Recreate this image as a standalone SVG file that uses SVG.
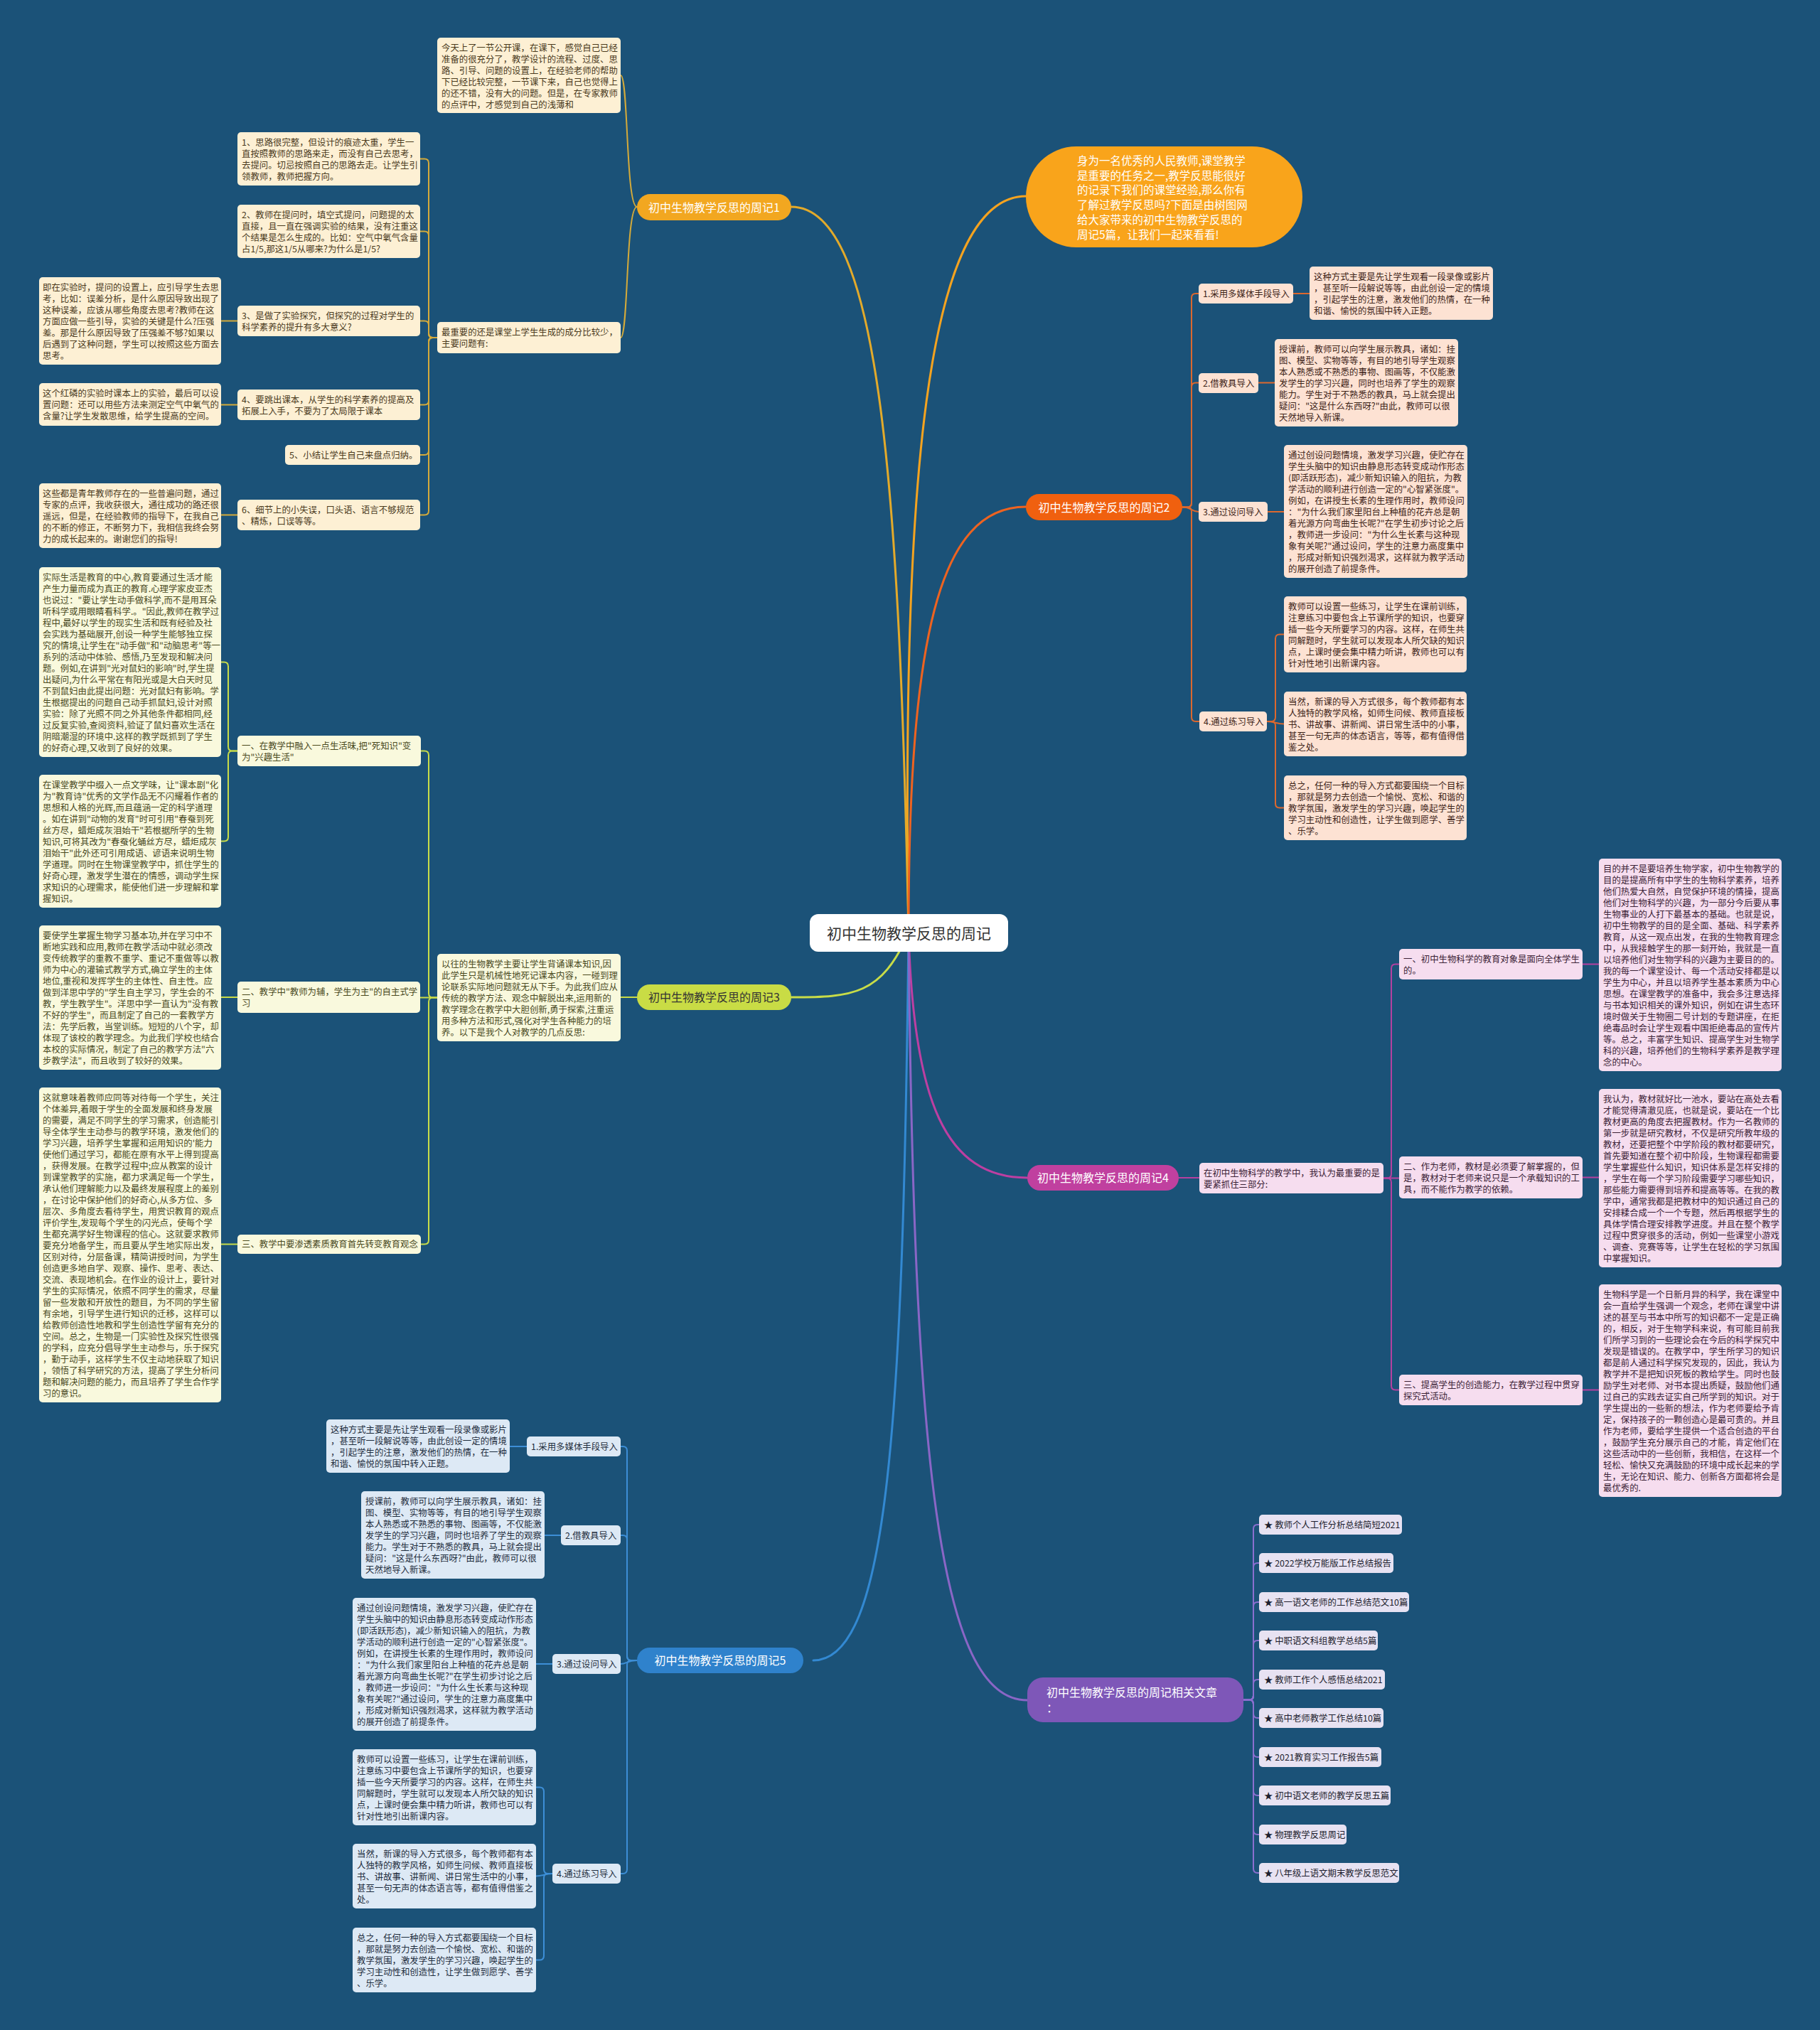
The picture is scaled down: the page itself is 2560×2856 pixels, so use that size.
<svg xmlns="http://www.w3.org/2000/svg" width="2560" height="2856" viewBox="0 0 2560 2856">
<style>
text{font-family:"Noto Sans CJK SC","Liberation Sans",sans-serif}
.s{font-size:12.4px}
.lbl{font-size:16px}
.ln{fill:none;stroke-width:2;stroke-linecap:round}
.main{fill:none;stroke-width:3;stroke-linecap:round}
.c1 rect{fill:#fdf0d4}.c1 text{fill:#4a3a1c}
.c2 rect{fill:#fde2d3}.c2 text{fill:#3d2418}
.c3 rect{fill:#f9f9dd}.c3 text{fill:#4a4a1e}
.c4 rect{fill:#f6ddef}.c4 text{fill:#3b2236}
.c5 rect{fill:#dde9f5}.c5 text{fill:#1e2d3d}
.c6 rect{fill:#e7e2f2}.c6 text{fill:#1e1e2e}
</style>
<rect width="2560" height="2856" fill="#1b5278"/>

<g id="connectors">
<path class="main" stroke="#f5a31f" d="M1278 1312 C1268 700 1300 276 1443 276"/>
<path class="main" stroke="#e3aa2a" d="M1278 1312 C1265 700 1240 291 1113 291"/>
<path class="main" stroke="#ee6320" d="M1278 1312 C1278 900 1320 713 1443 713"/>
<path class="main" stroke="#c8dc48" d="M1278 1312 C1240 1400 1200 1403 1113 1403"/>
<path class="main" stroke="#bd3fa2" d="M1278 1312 C1285 1550 1330 1657 1445 1657"/>
<path class="main" stroke="#3389d2" d="M1278 1312 C1270 2000 1250 2336 1144 2336"/>
<path class="main" stroke="#8a66c6" d="M1278 1312 C1285 2050 1320 2392 1445 2392"/>

<g stroke="#d4aa3a">
<path class="ln" d="M896 291 C880 291 884 106 873 106"/>
<path class="ln" d="M896 291 C880 291 884 475 873 475"/>
<path class="ln" d="M615 475 H609 Q603 475 603 469 V229.5 Q603 223.5 597 223.5 H591"/>
<path class="ln" d="M615 475 H609 Q603 475 603 469 V331.5 Q603 325.5 597 325.5 H591"/>
<path class="ln" d="M615 475 H609 Q603 475 603 469 V457.5 Q603 451.5 597 451.5 H591"/>
<path class="ln" d="M615 475 H609 Q603 475 603 481 V563.5 Q603 569.5 597 569.5 H591"/>
<path class="ln" d="M615 475 H609 Q603 475 603 481 V634 Q603 640 597 640 H591"/>
<path class="ln" d="M615 475 H609 Q603 475 603 481 V718.5 Q603 724.5 597 724.5 H591"/>
<path class="ln" d="M334 451.5 H311"/>
<path class="ln" d="M334 569.5 H311"/>
<path class="ln" d="M334 724.5 H311"/>
</g>

<g stroke="#c8dc48">
<path class="ln" d="M896 1403 H873"/>
<path class="ln" d="M615 1403.5 H609 Q603 1403.5 603 1397.5 V1062.5 Q603 1056.5 597 1056.5 H592"/>
<path class="ln" d="M615 1403.5 H591"/>
<path class="ln" d="M615 1403.5 H609 Q603 1403.5 603 1409.5 V1744.5 Q603 1750.5 597 1750.5 H592"/>
<path class="ln" d="M334 1056.5 H327 Q321 1056.5 321 1050.5 V937.5 Q321 931.5 315 931.5 H311"/>
<path class="ln" d="M334 1056.5 H327 Q321 1056.5 321 1062.5 V1177.5 Q321 1183.5 315 1183.5 H311"/>
<path class="ln" d="M334 1403 H311"/>
<path class="ln" d="M334 1750.5 H311"/>
</g>

<g stroke="#dc682e">
<path class="ln" d="M1663 713.5 H1670 Q1676 713.5 1676 707.5 V419 Q1676 413 1682 413 H1686"/>
<path class="ln" d="M1663 713.5 H1670 Q1676 713.5 1676 707.5 V544.5 Q1676 538.5 1682 538.5 H1686"/>
<path class="ln" d="M1663 713.5 C1676 713.5 1676 720 1686 720"/>
<path class="ln" d="M1663 713.5 H1670 Q1676 713.5 1676 719.5 V1009 Q1676 1015 1682 1015 H1687"/>
<path class="ln" d="M1819 413 H1842"/>
<path class="ln" d="M1770 538.5 H1793"/>
<path class="ln" d="M1783 720 H1806"/>
<path class="ln" d="M1782 1015 H1788 Q1794 1015 1794 1009 V898.5 Q1794 892.5 1800 892.5 H1806"/>
<path class="ln" d="M1782 1015 C1794 1015 1794 1018.5 1806 1018.5"/>
<path class="ln" d="M1782 1015 H1788 Q1794 1015 1794 1021 V1130.5 Q1794 1136.5 1800 1136.5 H1806"/>
</g>

<g stroke="#b540a0">
<path class="ln" d="M1658 1657 H1687"/>
<path class="ln" d="M1946 1657.5 H1951 Q1957 1657.5 1957 1651.5 V1362.5 Q1957 1356.5 1963 1356.5 H1968"/>
<path class="ln" d="M1946 1657.5 H1968"/>
<path class="ln" d="M1946 1657.5 H1951 Q1957 1657.5 1957 1663.5 V1949.5 Q1957 1955.5 1963 1955.5 H1968"/>
<path class="ln" d="M2226 1356.5 H2249"/>
<path class="ln" d="M2226 1656.5 H2249"/>
<path class="ln" d="M2226 1955.5 H2249"/>
</g>

<g stroke="#3d8ed6">
<path class="ln" d="M896 2336 H888 Q882 2336 882 2330 V2041 Q882 2035 876 2035 H873"/>
<path class="ln" d="M896 2336 H888 Q882 2336 882 2330 V2166 Q882 2160 876 2160 H873"/>
<path class="ln" d="M896 2336 C882 2336 882 2341 873 2341"/>
<path class="ln" d="M896 2336 H888 Q882 2336 882 2342 V2630 Q882 2636 876 2636 H873"/>
<path class="ln" d="M741 2035 H717"/>
<path class="ln" d="M789 2160 H766"/>
<path class="ln" d="M777 2341 H754"/>
<path class="ln" d="M777 2636 H771 Q765 2636 765 2630 V2520.5 Q765 2514.5 759 2514.5 H754"/>
<path class="ln" d="M777 2636 C765 2636 765 2639.5 754 2639.5"/>
<path class="ln" d="M777 2636 H771 Q765 2636 765 2642 V2751.5 Q765 2757.5 759 2757.5 H754"/>
</g>

<g stroke="#8a6fcf">
<path class="ln" d="M1749 2391.5 H1757 Q1763 2391.5 1763 2385.5 V2151 Q1763 2145 1769 2145 H1771"/>
<path class="ln" d="M1749 2391.5 H1757 Q1763 2391.5 1763 2385.5 V2205 Q1763 2199 1769 2199 H1771"/>
<path class="ln" d="M1749 2391.5 H1757 Q1763 2391.5 1763 2385.5 V2260 Q1763 2254 1769 2254 H1771"/>
<path class="ln" d="M1749 2391.5 H1757 Q1763 2391.5 1763 2385.5 V2314 Q1763 2308 1769 2308 H1771"/>
<path class="ln" d="M1749 2391.5 H1757 Q1763 2391.5 1763 2385.5 V2369 Q1763 2363 1769 2363 H1771"/>
<path class="ln" d="M1749 2391.5 H1757 Q1763 2391.5 1763 2397.5 V2411 Q1763 2417 1769 2417 H1771"/>
<path class="ln" d="M1749 2391.5 H1757 Q1763 2391.5 1763 2397.5 V2466 Q1763 2472 1769 2472 H1771"/>
<path class="ln" d="M1749 2391.5 H1757 Q1763 2391.5 1763 2397.5 V2520 Q1763 2526 1769 2526 H1771"/>
<path class="ln" d="M1749 2391.5 H1757 Q1763 2391.5 1763 2397.5 V2575 Q1763 2581 1769 2581 H1771"/>
<path class="ln" d="M1749 2391.5 H1757 Q1763 2391.5 1763 2397.5 V2629 Q1763 2635 1769 2635 H1771"/>
</g>
</g>

<g id="center">
<rect x="1139" y="1286" width="279" height="53" rx="12" fill="#ffffff"/>
<text x="1278.5" y="1320.5" text-anchor="middle" font-size="21" fill="#333333">初中生物教学反思的周记</text>
</g>

<g id="intro">
<rect x="1443" y="206" width="389" height="142" rx="71" fill="#f9a41b"/>
<text x="1515" y="231.6" font-size="15.5" fill="#ffffff"><tspan x="1515" dy="0">身为一名优秀的人民教师,课堂教学</tspan><tspan x="1515" dy="20.9">是重要的任务之一,教学反思能很好</tspan><tspan x="1515" dy="20.9">的记录下我们的课堂经验,那么你有</tspan><tspan x="1515" dy="20.9">了解过教学反思吗?下面是由树图网</tspan><tspan x="1515" dy="20.9">给大家带来的初中生物教学反思的</tspan><tspan x="1515" dy="20.9">周记5篇，让我们一起来看看!</tspan></text>
</g>

<!-- Branch 1 -->
<g id="b1">
<rect x="896" y="273" width="217" height="37" rx="18.5" fill="#f2a720"/>
<text class="lbl" x="1004.5" y="297.5" text-anchor="middle" fill="#ffffff">初中生物教学反思的周记1</text>
</g>
<g class="c1">
<g id="b1_intro"><rect x="615" y="53" width="258" height="106" rx="5"/>
<text class="s" x="621" y="71.5"><tspan x="621" dy="0">今天上了一节公开课，在课下，感觉自己已经</tspan><tspan x="621" dy="16">准备的很充分了，教学设计的流程、过度、思</tspan><tspan x="621" dy="16">路、引导、问题的设置上，在经验老师的帮助</tspan><tspan x="621" dy="16">下已经比较完整，一节课下来，自己也觉得上</tspan><tspan x="621" dy="16">的还不错，没有大的问题。但是，在专家教师</tspan><tspan x="621" dy="16">的点评中，才感觉到自己的浅薄和</tspan></text></g>
<g id="b1_main"><rect x="615" y="453" width="258" height="44" rx="5"/>
<text class="s" x="621" y="471.5"><tspan x="621" dy="0">最重要的还是课堂上学生生成的成分比较少，</tspan><tspan x="621" dy="16">主要问题有:</tspan></text></g>
<g id="b1_i1"><rect x="334" y="186" width="257" height="75" rx="5"/>
<text class="s" x="340" y="204.5"><tspan x="340" dy="0">1、思路很完整，但设计的痕迹太重，学生一</tspan><tspan x="340" dy="16">直按照教师的思路来走，而没有自己去思考，</tspan><tspan x="340" dy="16">去提问。切忌按照自己的思路去走。让学生引</tspan><tspan x="340" dy="16">领教师，教师把握方向。</tspan></text></g>
<g id="b1_i2"><rect x="334" y="288" width="257" height="75" rx="5"/>
<text class="s" x="340" y="306.5"><tspan x="340" dy="0">2、教师在提问时，填空式提问，问题提的太</tspan><tspan x="340" dy="16">直接，且一直在强调实验的结果，没有注重这</tspan><tspan x="340" dy="16">个结果是怎么生成的。比如：空气中氧气含量</tspan><tspan x="340" dy="16">占1/5,那这1/5从哪来?为什么是1/5?</tspan></text></g>
<g id="b1_i3"><rect x="334" y="430" width="257" height="43" rx="5"/>
<text class="s" x="340" y="448.5"><tspan x="340" dy="0">3、是做了实验探究，但探究的过程对学生的</tspan><tspan x="340" dy="16">科学素养的提升有多大意义?</tspan></text></g>
<g id="b1_i4"><rect x="334" y="548" width="257" height="43" rx="5"/>
<text class="s" x="340" y="566.5"><tspan x="340" dy="0">4、要跳出课本，从学生的科学素养的提高及</tspan><tspan x="340" dy="16">拓展上入手，不要为了太局限于课本</tspan></text></g>
<g id="b1_i5"><rect x="401" y="626" width="190" height="28" rx="5"/>
<text class="s" x="407" y="644.5">5、小结让学生自己来盘点归纳。</text></g>
<g id="b1_i6"><rect x="334" y="703" width="257" height="43" rx="5"/>
<text class="s" x="340" y="721.5"><tspan x="340" dy="0">6、细节上的小失误，口头语、语言不够规范</tspan><tspan x="340" dy="16">、精炼，口误等等。</tspan></text></g>
<g id="b1_l3"><rect x="55" y="390" width="256" height="123" rx="5"/>
<text class="s" x="60" y="408.5"><tspan x="60" dy="0">即在实验时，提问的设置上，应引导学生去思</tspan><tspan x="60" dy="16">考，比如：误差分析，是什么原因导致出现了</tspan><tspan x="60" dy="16">这种误差，应该从哪些角度去思考?教师在这</tspan><tspan x="60" dy="16">方面应做一些引导，实验的关键是什么?压强</tspan><tspan x="60" dy="16">差。那是什么原因导致了压强差不够?如果以</tspan><tspan x="60" dy="16">后遇到了这种问题，学生可以按照这些方面去</tspan><tspan x="60" dy="16">思考。</tspan></text></g>
<g id="b1_l4"><rect x="55" y="539" width="256" height="60" rx="5"/>
<text class="s" x="60" y="557.5"><tspan x="60" dy="0">这个红磷的实验时课本上的实验，最后可以设</tspan><tspan x="60" dy="16">置问题：还可以用些方法来测定空气中氧气的</tspan><tspan x="60" dy="16">含量?让学生发散思维，给学生提高的空间。</tspan></text></g>
<g id="b1_l6"><rect x="55" y="680" width="256" height="91" rx="5"/>
<text class="s" x="60" y="698.5"><tspan x="60" dy="0">这些都是青年教师存在的一些普遍问题，通过</tspan><tspan x="60" dy="16">专家的点评，我收获很大，通往成功的路还很</tspan><tspan x="60" dy="16">遥远，但是，在经验教师的指导下，在我自己</tspan><tspan x="60" dy="16">的不断的修正，不断努力下，我相信我终会努</tspan><tspan x="60" dy="16">力的成长起来的。谢谢您们的指导!</tspan></text></g>
</g>

<!-- Branch 2 -->
<g id="b2">
<rect x="1443" y="695" width="220" height="37" rx="18.5" fill="#f0600f"/>
<text class="lbl" x="1553" y="719.5" text-anchor="middle" fill="#ffffff">初中生物教学反思的周记2</text>
</g>
<g class="c2">
<g id="b2_1"><rect x="1686" y="399" width="133" height="28" rx="5"/><text class="s" x="1692" y="417.5">1.采用多媒体手段导入</text></g>
<g id="b2_1t"><rect x="1842" y="375" width="258" height="75" rx="5"/>
<text class="s" x="1848" y="393.5"><tspan x="1848" dy="0">这种方式主要是先让学生观看一段录像或影片</tspan><tspan x="1848" dy="16">，甚至听一段解说等等，由此创设一定的情境</tspan><tspan x="1848" dy="16">，引起学生的注意，激发他们的热情，在一种</tspan><tspan x="1848" dy="16">和谐、愉悦的氛围中转入正题。</tspan></text></g>
<g id="b2_2"><rect x="1686" y="525" width="84" height="28" rx="5"/><text class="s" x="1692" y="543.5">2.借教具导入</text></g>
<g id="b2_2t"><rect x="1793" y="477" width="258" height="123" rx="5"/>
<text class="s" x="1799" y="495.5"><tspan x="1799" dy="0">授课前，教师可以向学生展示教具，诸如：挂</tspan><tspan x="1799" dy="16">图、模型、实物等等，有目的地引导学生观察</tspan><tspan x="1799" dy="16">本人熟悉或不熟悉的事物、图画等，不仅能激</tspan><tspan x="1799" dy="16">发学生的学习兴趣，同时也培养了学生的观察</tspan><tspan x="1799" dy="16">能力。学生对于不熟悉的教具，马上就会提出</tspan><tspan x="1799" dy="16">疑问："这是什么东西呀?"由此，教师可以很</tspan><tspan x="1799" dy="16">天然地导入新课。</tspan></text></g>
<g id="b2_3"><rect x="1686" y="706" width="97" height="28" rx="5"/><text class="s" x="1692" y="724.5">3.通过设问导入</text></g>
<g id="b2_3t"><rect x="1806" y="626" width="258" height="187" rx="5"/>
<text class="s" x="1812" y="644.5"><tspan x="1812" dy="0">通过创设问题情境，激发学习兴趣，使贮存在</tspan><tspan x="1812" dy="16">学生头脑中的知识由静息形态转变成动作形态</tspan><tspan x="1812" dy="16">(即活跃形态)，减少新知识输入的阻抗，为教</tspan><tspan x="1812" dy="16">学活动的顺利进行创造一定的"心智紧张度"。</tspan><tspan x="1812" dy="16">例如，在讲授生长素的生理作用时，教师设问</tspan><tspan x="1812" dy="16">："为什么我们家里阳台上种植的花卉总是朝</tspan><tspan x="1812" dy="16">着光源方向弯曲生长呢?"在学生初步讨论之后</tspan><tspan x="1812" dy="16">，教师进一步设问："为什么生长素与这种现</tspan><tspan x="1812" dy="16">象有关呢?"通过设问，学生的注意力高度集中</tspan><tspan x="1812" dy="16">，形成对新知识强烈渴求，这样就为教学活动</tspan><tspan x="1812" dy="16">的展开创造了前提条件。</tspan></text></g>
<g id="b2_4"><rect x="1687" y="1001" width="95" height="28" rx="5"/><text class="s" x="1693" y="1019.5">4.通过练习导入</text></g>
<g id="b2_4a"><rect x="1806" y="839" width="257" height="107" rx="5"/>
<text class="s" x="1812" y="857.5"><tspan x="1812" dy="0">教师可以设置一些练习，让学生在课前训练，</tspan><tspan x="1812" dy="16">注意练习中要包含上节课所学的知识，也要穿</tspan><tspan x="1812" dy="16">插一些今天所要学习的内容。这样，在师生共</tspan><tspan x="1812" dy="16">同解题时，学生就可以发现本人所欠缺的知识</tspan><tspan x="1812" dy="16">点，上课时便会集中精力听讲，教师也可以有</tspan><tspan x="1812" dy="16">针对性地引出新课内容。</tspan></text></g>
<g id="b2_4b"><rect x="1806" y="973" width="257" height="91" rx="5"/>
<text class="s" x="1812" y="991.5"><tspan x="1812" dy="0">当然，新课的导入方式很多，每个教师都有本</tspan><tspan x="1812" dy="16">人独特的教学风格，如师生问候、教师直接板</tspan><tspan x="1812" dy="16">书、讲故事、讲新闻、讲日常生活中的小事，</tspan><tspan x="1812" dy="16">甚至一句无声的体态语言，等等，都有值得借</tspan><tspan x="1812" dy="16">鉴之处。</tspan></text></g>
<g id="b2_4c"><rect x="1806" y="1091" width="257" height="91" rx="5"/>
<text class="s" x="1812" y="1109.5"><tspan x="1812" dy="0">总之，任何一种的导入方式都要围绕一个目标</tspan><tspan x="1812" dy="16">，那就是努力去创造一个愉悦、宽松、和谐的</tspan><tspan x="1812" dy="16">教学氛围，激发学生的学习兴趣，唤起学生的</tspan><tspan x="1812" dy="16">学习主动性和创造性，让学生做到愿学、善学</tspan><tspan x="1812" dy="16">、乐学。</tspan></text></g>
</g>

<!-- Branch 3 -->
<g id="b3">
<rect x="896" y="1385" width="217" height="36" rx="18" fill="#c9dc45"/>
<text class="lbl" x="1004.5" y="1409" text-anchor="middle" fill="#333333">初中生物教学反思的周记3</text>
</g>
<g class="c3">
<g id="b3_main"><rect x="615" y="1342" width="258" height="123" rx="5"/>
<text class="s" x="621" y="1360.5"><tspan x="621" dy="0">以往的生物教学主要让学生背诵课本知识,因</tspan><tspan x="621" dy="16">此学生只是机械性地死记课本内容，一碰到理</tspan><tspan x="621" dy="16">论联系实际地问题就无从下手。为此我们应从</tspan><tspan x="621" dy="16">传统的教学方法、观念中解脱出来,运用新的</tspan><tspan x="621" dy="16">教学理念在教学中大胆创新,勇于探索,注重运</tspan><tspan x="621" dy="16">用多种方法和形式,强化对学生各种能力的培</tspan><tspan x="621" dy="16">养。以下是我个人对教学的几点反思:</tspan></text></g>
<g id="b3_i1"><rect x="334" y="1035" width="258" height="43" rx="5"/>
<text class="s" x="340" y="1053.5"><tspan x="340" dy="0">一、在教学中融入一点生活味,把"死知识"变</tspan><tspan x="340" dy="16">为"兴趣生活"</tspan></text></g>
<g id="b3_i2"><rect x="334" y="1381" width="257" height="44" rx="5"/>
<text class="s" x="340" y="1399.5"><tspan x="340" dy="0">二、教学中"教师为辅，学生为主"的自主式学</tspan><tspan x="340" dy="16">习</tspan></text></g>
<g id="b3_i3"><rect x="334" y="1737" width="258" height="27" rx="5"/>
<text class="s" x="340" y="1755">三、教学中要渗透素质教育首先转变教育观念</text></g>
<g id="b3_l1a"><rect x="55" y="798" width="256" height="267" rx="5"/>
<text class="s" x="60" y="816.5"><tspan x="60" dy="0">实际生活是教育的中心,教育要通过生活才能</tspan><tspan x="60" dy="16">产生力量而成为真正的教育.心理学家皮亚杰</tspan><tspan x="60" dy="16">也说过："要让学生动手做科学,而不是用耳朵</tspan><tspan x="60" dy="16">听科学或用眼睛看科学.。"因此,教师在教学过</tspan><tspan x="60" dy="16">程中,最好以学生的现实生活和既有经验及社</tspan><tspan x="60" dy="16">会实践为基础展开,创设一种学生能够独立探</tspan><tspan x="60" dy="16">究的情境,让学生在"动手做"和"动脑思考"等一</tspan><tspan x="60" dy="16">系列的活动中体验、感悟,乃至发现和解决问</tspan><tspan x="60" dy="16">题。例如,在讲到"光对鼠妇的影响"时,学生提</tspan><tspan x="60" dy="16">出疑问,为什么平常在有阳光或是大白天时见</tspan><tspan x="60" dy="16">不到鼠妇由此提出问题：光对鼠妇有影响。学</tspan><tspan x="60" dy="16">生根据提出的问题自己动手抓鼠妇,设计对照</tspan><tspan x="60" dy="16">实验：除了光照不同之外其他条件都相同,经</tspan><tspan x="60" dy="16">过反复实验,查阅资料,验证了鼠妇喜欢生活在</tspan><tspan x="60" dy="16">阴暗潮湿的环境中.这样的教学既抓到了学生</tspan><tspan x="60" dy="16">的好奇心理,又收到了良好的效果。</tspan></text></g>
<g id="b3_l1b"><rect x="55" y="1090" width="256" height="187" rx="5"/>
<text class="s" x="60" y="1108.5"><tspan x="60" dy="0">在课堂教学中缀入一点文学味，让"课本剧"化</tspan><tspan x="60" dy="16">为"教育诗"优秀的文学作品无不闪耀着作者的</tspan><tspan x="60" dy="16">思想和人格的光辉,而且蕴涵一定的科学道理</tspan><tspan x="60" dy="16">。如在讲到"动物的发育"时可引用"春蚕到死</tspan><tspan x="60" dy="16">丝方尽，蜡炬成灰泪始干"若根据所学的生物</tspan><tspan x="60" dy="16">知识,可将其改为"春蚕化蛹丝方尽，蜡炬成灰</tspan><tspan x="60" dy="16">泪始干"此外还可引用成语、谚语来说明生物</tspan><tspan x="60" dy="16">学道理。同时在生物课堂教学中，抓住学生的</tspan><tspan x="60" dy="16">好奇心理，激发学生潜在的情感，调动学生探</tspan><tspan x="60" dy="16">求知识的心理需求，能使他们进一步理解和掌</tspan><tspan x="60" dy="16">握知识。</tspan></text></g>
<g id="b3_l2"><rect x="55" y="1302" width="256" height="203" rx="5"/>
<text class="s" x="60" y="1320.5"><tspan x="60" dy="0">要使学生掌握生物学习基本功,并在学习中不</tspan><tspan x="60" dy="16">断地实践和应用,教师在教学活动中就必须改</tspan><tspan x="60" dy="16">变传统教学的重教不重学、重记不重做等以教</tspan><tspan x="60" dy="16">师为中心的灌输式教学方式,确立学生的主体</tspan><tspan x="60" dy="16">地位,重视和发挥学生的主体性、自主性。应</tspan><tspan x="60" dy="16">做到洋思中学的"学生自主学习，学生会的不</tspan><tspan x="60" dy="16">教，学生教学生"。洋思中学一直认为"没有教</tspan><tspan x="60" dy="16">不好的学生"，而且制定了自己的一套教学方</tspan><tspan x="60" dy="16">法：先学后教，当堂训练。短短的八个字，却</tspan><tspan x="60" dy="16">体现了该校的教学理念。为此我们学校也结合</tspan><tspan x="60" dy="16">本校的实际情况，制定了自己的教学方法"六</tspan><tspan x="60" dy="16">步教学法"，而且收到了较好的效果。</tspan></text></g>
<g id="b3_l3"><rect x="55" y="1530" width="256" height="443" rx="5"/>
<text class="s" x="60" y="1548.5"><tspan x="60" dy="0">这就意味着教师应同等对待每一个学生，关注</tspan><tspan x="60" dy="16">个体差异,着眼于学生的全面发展和终身发展</tspan><tspan x="60" dy="16">的需要，满足不同学生的学习需求，创造能引</tspan><tspan x="60" dy="16">导全体学生主动参与的教学环境，激发他们的</tspan><tspan x="60" dy="16">学习兴趣，培养学生掌握和运用知识的'能力</tspan><tspan x="60" dy="16">使他们通过学习，都能在原有水平上得到提高</tspan><tspan x="60" dy="16">，获得发展。在教学过程中;应从教案的设计</tspan><tspan x="60" dy="16">到课堂教学的实施，都力求满足每一个学生，</tspan><tspan x="60" dy="16">承认他们理解能力以及最终发展程度上的差别</tspan><tspan x="60" dy="16">，在讨论中保护他们的好奇心,从多方位、多</tspan><tspan x="60" dy="16">层次、多角度去看待学生，用赏识教育的观点</tspan><tspan x="60" dy="16">评价学生,发现每个学生的闪光点，使每个学</tspan><tspan x="60" dy="16">生都充满学好生物课程的信心。这就要求教师</tspan><tspan x="60" dy="16">要充分地备学生，而且要从学生地实际出发，</tspan><tspan x="60" dy="16">区别对待，分层备课，精简讲授时间，为学生</tspan><tspan x="60" dy="16">创造更多地自学、观察、操作、思考、表达、</tspan><tspan x="60" dy="16">交流、表现地机会。在作业的设计上，要针对</tspan><tspan x="60" dy="16">学生的实际情况，依照不同学生的需求，尽量</tspan><tspan x="60" dy="16">留一些发散和开放性的题目，为不同的学生留</tspan><tspan x="60" dy="16">有余地，引导学生进行知识的迁移，这样可以</tspan><tspan x="60" dy="16">给教师创造性地教和学生创造性学留有充分的</tspan><tspan x="60" dy="16">空间。总之，生物是一门实验性及探究性很强</tspan><tspan x="60" dy="16">的学科，应充分倡导学生主动参与，乐于探究</tspan><tspan x="60" dy="16">，勤于动手，这样学生不仅主动地获取了知识</tspan><tspan x="60" dy="16">，领悟了科学研究的方法，提高了学生分析问</tspan><tspan x="60" dy="16">题和解决问题的能力，而且培养了学生合作学</tspan><tspan x="60" dy="16">习的意识。</tspan></text></g>
</g>

<!-- Branch 4 -->
<g id="b4">
<rect x="1445" y="1639" width="213" height="36" rx="18" fill="#c0409f"/>
<text class="lbl" x="1551.5" y="1663" text-anchor="middle" fill="#ffffff">初中生物教学反思的周记4</text>
</g>
<g class="c4">
<g id="b4_main"><rect x="1687" y="1636" width="259" height="43" rx="5"/>
<text class="s" x="1693" y="1654.5"><tspan x="1693" dy="0">在初中生物科学的教学中，我认为最重要的是</tspan><tspan x="1693" dy="16">要紧抓住三部分:</tspan></text></g>
<g id="b4_i1"><rect x="1968" y="1335" width="258" height="43" rx="5"/>
<text class="s" x="1974" y="1353.5"><tspan x="1974" dy="0">一、初中生物科学的教育对象是面向全体学生</tspan><tspan x="1974" dy="16">的。</tspan></text></g>
<g id="b4_i2"><rect x="1968" y="1627" width="258" height="59" rx="5"/>
<text class="s" x="1974" y="1645.5"><tspan x="1974" dy="0">二、作为老师，教材是必须要了解掌握的，但</tspan><tspan x="1974" dy="16">是，教材对于老师来说只是一个承载知识的工</tspan><tspan x="1974" dy="16">具，而不能作为教学的依赖。</tspan></text></g>
<g id="b4_i3"><rect x="1968" y="1934" width="258" height="43" rx="5"/>
<text class="s" x="1974" y="1952.5"><tspan x="1974" dy="0">三、提高学生的创造能力，在教学过程中贯穿</tspan><tspan x="1974" dy="16">探究式活动。</tspan></text></g>
<g id="b4_t1"><rect x="2249" y="1208" width="257" height="299" rx="5"/>
<text class="s" x="2255" y="1226.5"><tspan x="2255" dy="0">目的并不是要培养生物学家，初中生物教学的</tspan><tspan x="2255" dy="16">目的是提高所有中学生的生物科学素养，培养</tspan><tspan x="2255" dy="16">他们热爱大自然，自觉保护环境的情操，提高</tspan><tspan x="2255" dy="16">他们对生物科学的兴趣，为一部分今后要从事</tspan><tspan x="2255" dy="16">生物事业的人打下最基本的基础。也就是说，</tspan><tspan x="2255" dy="16">初中生物教学的目的是全面、基础、科学素养</tspan><tspan x="2255" dy="16">教育，从这一观点出发，在我的生物教育理念</tspan><tspan x="2255" dy="16">中，从我接触学生的那一刻开始，我就是一直</tspan><tspan x="2255" dy="16">以培养他们对生物学科的兴趣为主要目的的。</tspan><tspan x="2255" dy="16">我的每一个课堂设计、每一个活动安排都是以</tspan><tspan x="2255" dy="16">学生为中心，并且以培养学生基本素质为中心</tspan><tspan x="2255" dy="16">思想。在课堂教学的准备中，我会多注意选择</tspan><tspan x="2255" dy="16">与书本知识相关的课外知识，例如在讲生态环</tspan><tspan x="2255" dy="16">境时做关于生物圈二号计划的专题讲座，在拒</tspan><tspan x="2255" dy="16">绝毒品时会让学生观看中国拒绝毒品的宣传片</tspan><tspan x="2255" dy="16">等。总之，丰富学生知识、提高学生对生物学</tspan><tspan x="2255" dy="16">科的兴趣，培养他们的生物科学素养是教学理</tspan><tspan x="2255" dy="16">念的中心。</tspan></text></g>
<g id="b4_t2"><rect x="2249" y="1532" width="257" height="251" rx="5"/>
<text class="s" x="2255" y="1550.5"><tspan x="2255" dy="0">我认为，教材就好比一池水，要站在高处去看</tspan><tspan x="2255" dy="16">才能觉得清澈见底，也就是说，要站在一个比</tspan><tspan x="2255" dy="16">教材更高的角度去把握教材。作为一名教师的</tspan><tspan x="2255" dy="16">第一步就是研究教材，不仅是研究所教年级的</tspan><tspan x="2255" dy="16">教材，还要把整个中学阶段的教材都要研究，</tspan><tspan x="2255" dy="16">首先要知道在整个初中阶段，生物课程都需要</tspan><tspan x="2255" dy="16">学生掌握些什么知识，知识体系是怎样安排的</tspan><tspan x="2255" dy="16">，学生在每一个学习阶段需要学习哪些知识，</tspan><tspan x="2255" dy="16">那些能力需要得到培养和提高等等。在我的教</tspan><tspan x="2255" dy="16">学中，通常我都是把教材中的知识通过自己的</tspan><tspan x="2255" dy="16">安排糅合成一个一个专题，然后再根据学生的</tspan><tspan x="2255" dy="16">具体学情合理安排教学进度。并且在整个教学</tspan><tspan x="2255" dy="16">过程中贯穿很多的活动，例如一些课堂小游戏</tspan><tspan x="2255" dy="16">、调查、竞赛等等，让学生在轻松的学习氛围</tspan><tspan x="2255" dy="16">中掌握知识。</tspan></text></g>
<g id="b4_t3"><rect x="2249" y="1807" width="257" height="299" rx="5"/>
<text class="s" x="2255" y="1825.5"><tspan x="2255" dy="0">生物科学是一个日新月异的科学，我在课堂中</tspan><tspan x="2255" dy="16">会一直给学生强调一个观念，老师在课堂中讲</tspan><tspan x="2255" dy="16">述的甚至与书本中所写的知识都不一定是正确</tspan><tspan x="2255" dy="16">的，相反，对于生物学科来说，有可能目前我</tspan><tspan x="2255" dy="16">们所学习到的一些理论会在今后的科学探究中</tspan><tspan x="2255" dy="16">发现是错误的。在教学中，学生所学习的知识</tspan><tspan x="2255" dy="16">都是前人通过科学探究发现的，因此，我认为</tspan><tspan x="2255" dy="16">教学并不是把知识死板的教给学生。同时也鼓</tspan><tspan x="2255" dy="16">励学生对老师、对书本提出质疑，鼓励他们通</tspan><tspan x="2255" dy="16">过自己的实践去证实自己所学到的知识。对于</tspan><tspan x="2255" dy="16">学生提出的一些新的想法，作为老师要给予肯</tspan><tspan x="2255" dy="16">定，保持孩子的一颗创造心是最可贵的。并且</tspan><tspan x="2255" dy="16">作为老师，要给学生提供一个适合创造的平台</tspan><tspan x="2255" dy="16">，鼓励学生充分展示自己的才能，肯定他们在</tspan><tspan x="2255" dy="16">这些活动中的一些创新，我相信，在这样一个</tspan><tspan x="2255" dy="16">轻松、愉快又充满鼓励的环境中成长起来的学</tspan><tspan x="2255" dy="16">生，无论在知识、能力、创新各方面都将会是</tspan><tspan x="2255" dy="16">最优秀的.</tspan></text></g>
</g>

<!-- Branch 5 -->
<g id="b5">
<rect x="896" y="2318" width="234" height="36" rx="18" fill="#2f82cc"/>
<text class="lbl" x="1013" y="2342" text-anchor="middle" fill="#ffffff">初中生物教学反思的周记5</text>
</g>
<g class="c5">
<g id="b5_1"><rect x="741" y="2021" width="132" height="28" rx="5"/><text class="s" x="747" y="2039.5">1.采用多媒体手段导入</text></g>
<g id="b5_1t"><rect x="459" y="1997" width="258" height="75" rx="5"/>
<text class="s" x="465" y="2015.5"><tspan x="465" dy="0">这种方式主要是先让学生观看一段录像或影片</tspan><tspan x="465" dy="16">，甚至听一段解说等等，由此创设一定的情境</tspan><tspan x="465" dy="16">，引起学生的注意，激发他们的热情，在一种</tspan><tspan x="465" dy="16">和谐、愉悦的氛围中转入正题。</tspan></text></g>
<g id="b5_2"><rect x="789" y="2146" width="84" height="28" rx="5"/><text class="s" x="795" y="2164.5">2.借教具导入</text></g>
<g id="b5_2t"><rect x="508" y="2098" width="258" height="123" rx="5"/>
<text class="s" x="514" y="2116.5"><tspan x="514" dy="0">授课前，教师可以向学生展示教具，诸如：挂</tspan><tspan x="514" dy="16">图、模型、实物等等，有目的地引导学生观察</tspan><tspan x="514" dy="16">本人熟悉或不熟悉的事物、图画等，不仅能激</tspan><tspan x="514" dy="16">发学生的学习兴趣，同时也培养了学生的观察</tspan><tspan x="514" dy="16">能力。学生对于不熟悉的教具，马上就会提出</tspan><tspan x="514" dy="16">疑问："这是什么东西呀?"由此，教师可以很</tspan><tspan x="514" dy="16">天然地导入新课。</tspan></text></g>
<g id="b5_3"><rect x="777" y="2327" width="96" height="28" rx="5"/><text class="s" x="783" y="2345.5">3.通过设问导入</text></g>
<g id="b5_3t"><rect x="496" y="2248" width="258" height="187" rx="5"/>
<text class="s" x="502" y="2266.5"><tspan x="502" dy="0">通过创设问题情境，激发学习兴趣，使贮存在</tspan><tspan x="502" dy="16">学生头脑中的知识由静息形态转变成动作形态</tspan><tspan x="502" dy="16">(即活跃形态)，减少新知识输入的阻抗，为教</tspan><tspan x="502" dy="16">学活动的顺利进行创造一定的"心智紧张度"。</tspan><tspan x="502" dy="16">例如，在讲授生长素的生理作用时，教师设问</tspan><tspan x="502" dy="16">："为什么我们家里阳台上种植的花卉总是朝</tspan><tspan x="502" dy="16">着光源方向弯曲生长呢?"在学生初步讨论之后</tspan><tspan x="502" dy="16">，教师进一步设问："为什么生长素与这种现</tspan><tspan x="502" dy="16">象有关呢?"通过设问，学生的注意力高度集中</tspan><tspan x="502" dy="16">，形成对新知识强烈渴求，这样就为教学活动</tspan><tspan x="502" dy="16">的展开创造了前提条件。</tspan></text></g>
<g id="b5_4"><rect x="777" y="2622" width="96" height="28" rx="5"/><text class="s" x="783" y="2640.5">4.通过练习导入</text></g>
<g id="b5_4a"><rect x="496" y="2461" width="258" height="107" rx="5"/>
<text class="s" x="502" y="2479.5"><tspan x="502" dy="0">教师可以设置一些练习，让学生在课前训练，</tspan><tspan x="502" dy="16">注意练习中要包含上节课所学的知识，也要穿</tspan><tspan x="502" dy="16">插一些今天所要学习的内容。这样，在师生共</tspan><tspan x="502" dy="16">同解题时，学生就可以发现本人所欠缺的知识</tspan><tspan x="502" dy="16">点，上课时便会集中精力听讲，教师也可以有</tspan><tspan x="502" dy="16">针对性地引出新课内容。</tspan></text></g>
<g id="b5_4b"><rect x="496" y="2594" width="258" height="91" rx="5"/>
<text class="s" x="502" y="2612.5"><tspan x="502" dy="0">当然，新课的导入方式很多，每个教师都有本</tspan><tspan x="502" dy="16">人独特的教学风格，如师生问候、教师直接板</tspan><tspan x="502" dy="16">书、讲故事、讲新闻、讲日常生活中的小事，</tspan><tspan x="502" dy="16">甚至一句无声的体态语言等，都有值得借鉴之</tspan><tspan x="502" dy="16">处。</tspan></text></g>
<g id="b5_4c"><rect x="496" y="2712" width="258" height="91" rx="5"/>
<text class="s" x="502" y="2730.5"><tspan x="502" dy="0">总之，任何一种的导入方式都要围绕一个目标</tspan><tspan x="502" dy="16">，那就是努力去创造一个愉悦、宽松、和谐的</tspan><tspan x="502" dy="16">教学氛围，激发学生的学习兴趣，唤起学生的</tspan><tspan x="502" dy="16">学习主动性和创造性，让学生做到愿学、善学</tspan><tspan x="502" dy="16">、乐学。</tspan></text></g>
</g>

<!-- Related -->
<g id="b6">
<rect x="1445" y="2360" width="304" height="63" rx="22" fill="#7e57b8"/>
<text class="lbl" x="1472" y="2387" fill="#ffffff"><tspan x="1472" dy="0">初中生物教学反思的周记相关文章</tspan><tspan x="1472" dy="22">：</tspan></text>
</g>
<g class="c6">
<g id="r1"><rect x="1771" y="2131" width="201" height="28" rx="5"/><text class="s" x="1778" y="2149.5">★ 教师个人工作分析总结简短2021</text></g>
<g id="r2"><rect x="1771" y="2185" width="189" height="28" rx="5"/><text class="s" x="1778" y="2203.5">★ 2022学校万能版工作总结报告</text></g>
<g id="r3"><rect x="1771" y="2240" width="211" height="28" rx="5"/><text class="s" x="1778" y="2258.5">★ 高一语文老师的工作总结范文10篇</text></g>
<g id="r4"><rect x="1771" y="2294" width="167" height="28" rx="5"/><text class="s" x="1778" y="2312.5">★ 中职语文科组教学总结5篇</text></g>
<g id="r5"><rect x="1771" y="2349" width="177" height="28" rx="5"/><text class="s" x="1778" y="2367.5">★ 教师工作个人感悟总结2021</text></g>
<g id="r6"><rect x="1771" y="2403" width="175" height="28" rx="5"/><text class="s" x="1778" y="2421.5">★ 高中老师教学工作总结10篇</text></g>
<g id="r7"><rect x="1771" y="2458" width="172" height="28" rx="5"/><text class="s" x="1778" y="2476.5">★ 2021教育实习工作报告5篇</text></g>
<g id="r8"><rect x="1771" y="2512" width="185" height="28" rx="5"/><text class="s" x="1778" y="2530.5">★ 初中语文老师的教学反思五篇</text></g>
<g id="r9"><rect x="1771" y="2567" width="123" height="28" rx="5"/><text class="s" x="1778" y="2585.5">★ 物理教学反思周记</text></g>
<g id="r10"><rect x="1771" y="2621" width="197" height="28" rx="5"/><text class="s" x="1778" y="2639.5">★ 八年级上语文期末教学反思范文</text></g>
</g>
</svg>
